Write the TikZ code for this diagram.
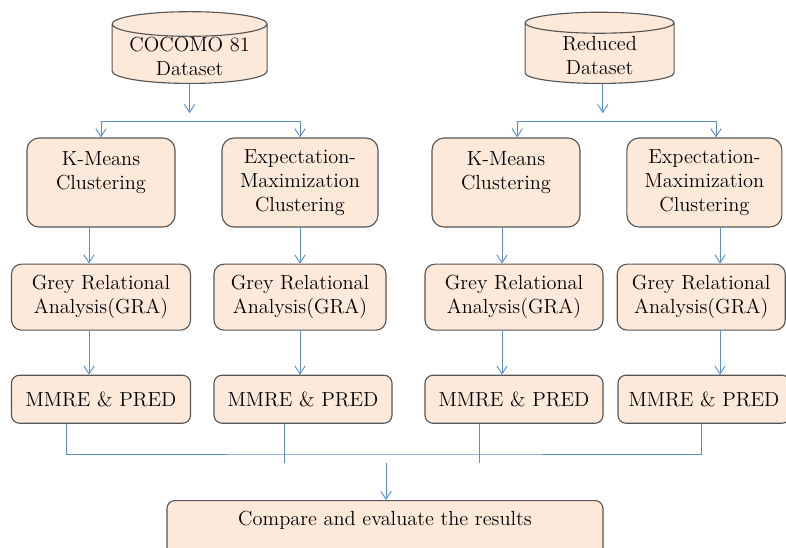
\documentclass[tikz,border=0pt]{standalone}
\usepackage{tikz}
\usetikzlibrary{shapes.geometric, arrows.meta, positioning}

\definecolor{boxfill}{HTML}{FCE9DA}
\definecolor{boxline}{HTML}{555555}
\definecolor{linkblue}{HTML}{5B8FD4}

\begin{document}
\begin{tikzpicture}[font=\fontsize{14.5}{17}\selectfont]

\tikzstyle{dbase} = [cylinder, shape border rotate=90, aspect=0.25, inner ysep=0pt, minimum height=1.78cm, align=center, draw=boxline, fill=boxfill, line width=0.8pt]
\tikzstyle{block} = [rectangle, rounded corners=0.3cm, minimum height=2.225cm, align=center, draw=boxline, fill=boxfill, line width=0.8pt]
\tikzstyle{gra} = [rectangle, rounded corners=0.25cm, minimum height=1.65cm, align=center, draw=boxline, fill=boxfill, line width=0.8pt]
\tikzstyle{score} = [rectangle, rounded corners=0.2cm, minimum height=1.2cm, align=center, draw=boxline, fill=boxfill, line width=0.8pt]
\tikzstyle{wire} = [draw=linkblue, line width=0.65pt]
\tikzstyle{link} = [wire, -{Straight Barb[length=2mm, width=2.6mm]}]

\useasboundingbox (0,0) rectangle (19.65,-13.675);

% datasets
\node (data1) [dbase, aspect=0.19, minimum width=3.875cm, anchor=south] at (4.74,-2.1) {COCOMO 81\\Dataset};
\node (data2) [dbase, minimum width=3.725cm, anchor=south] at (14.99,-2.1) {Reduced\\Dataset};

% clustering
\node (km1) [block, minimum width=3.7cm] at (2.525,-4.5625) {K-Means\\Clustering\\\mbox{}};
\node (em1) [block, minimum width=3.9cm] at (7.5,-4.5625) {Expectation-\\Maximization\\Clustering};
\node (km2) [block, minimum width=3.7cm] at (12.65,-4.5625) {K-Means\\Clustering\\\mbox{}};
\node (em2) [block, minimum width=3.875cm] at (17.61,-4.5625) {Expectation-\\Maximization\\Clustering};

% grey relational analysis
\node (gra1) [gra, minimum width=4.475cm, below=0.9cm of km1] {Grey Relational\\Analysis(GRA)};
\node (gra2) [gra, minimum width=4.3cm, below=0.9cm of em1] {Grey Relational\\Analysis(GRA)};
\node (gra3) [gra, minimum width=4.45cm, below=0.9cm of km2, xshift=0.2cm] {Grey Relational\\Analysis(GRA)};
\node (gra4) [gra, minimum width=4.2cm, below=0.9cm of em2, xshift=-0.08cm] {Grey Relational\\Analysis(GRA)};

% evaluation
\node (mm1) [score, minimum width=4.475cm, below=1.1cm of gra1] {MMRE \& PRED};
\node (mm2) [score, minimum width=4.45cm, below=1.1cm of gra2, xshift=0.075cm] {MMRE \& PRED};
\node (mm3) [score, minimum width=4.45cm, below=1.1cm of gra3] {MMRE \& PRED};
\node (mm4) [score, minimum width=4.3cm, below=1.1cm of gra4, xshift=0.07cm] {MMRE \& PRED};

\node (cmp) [score, anchor=north, minimum width=10.9cm, inner ysep=0.1cm, text height=0.52cm, text depth=0.9cm] at (9.625,-12.5) {Compare and evaluate the results};

\coordinate (tip1) at (4.74,-2.83);
\coordinate (split1) at (4.74,-3.025);
\coordinate (tip2) at (15.07,-2.83);
\coordinate (split2) at (15.07,-3.025);
\coordinate (join) at (9.65,-11.35);
\coordinate (joinend) at (9.65,-11.575);

% top splits
\draw [link] (data1.south) -- (tip1);
\draw [wire] (km1.north |- split1) -- (em1.north |- split1);
\draw [link] (km1.north |- split1) -- (km1.north);
\draw [link] (em1.north |- split1) -- (em1.north);
\draw [link] (data2.south -| split2) -- (tip2);
\draw [wire] ([xshift=0.28cm]km2.north |- split2) -- ([xshift=0.29cm]em2.north |- split2);
\draw [link] ([xshift=0.28cm]km2.north |- split2) -- ([xshift=0.28cm]km2.north);
\draw [link] ([xshift=0.29cm]em2.north |- split2) -- ([xshift=0.29cm]em2.north);

% columns
\draw [link] ([xshift=-0.3cm]km1.south) -- ([xshift=-0.3cm]km1.south |- gra1.north);
\draw [link] ([xshift=-0.3cm]km1.south |- gra1.south) -- ([xshift=-0.3cm]km1.south |- mm1.north);
\draw [link] (em1.south) -- (em1.south |- gra2.north);
\draw [link] (em1.south |- gra2.south) -- (em1.south |- mm2.north);
\draw [link] ([xshift=-0.1cm]km2.south) -- ([xshift=-0.1cm]km2.south |- gra3.north);
\draw [link] ([xshift=-0.1cm]km2.south |- gra3.south) -- ([xshift=-0.1cm]km2.south |- mm3.north);
\draw [link] ([xshift=0.39cm]em2.south) -- ([xshift=0.39cm]em2.south |- gra4.north);
\draw [link] ([xshift=0.39cm]em2.south |- gra4.south) -- ([xshift=0.39cm]em2.south |- mm4.north);

% join
\draw [wire] ([xshift=-0.86cm]mm1.south) |- (join) -| ([xshift=-0.075cm]mm4.south);
\draw [wire] ([xshift=-0.475cm]mm2.south) -- ([xshift=-0.475cm]mm2.south |- joinend);
\draw [wire] ([xshift=-0.875cm]mm3.south) -- ([xshift=-0.875cm]mm3.south |- joinend);
\draw [link] (joinend) -- (cmp.north -| joinend);

\end{tikzpicture}
\end{document}
